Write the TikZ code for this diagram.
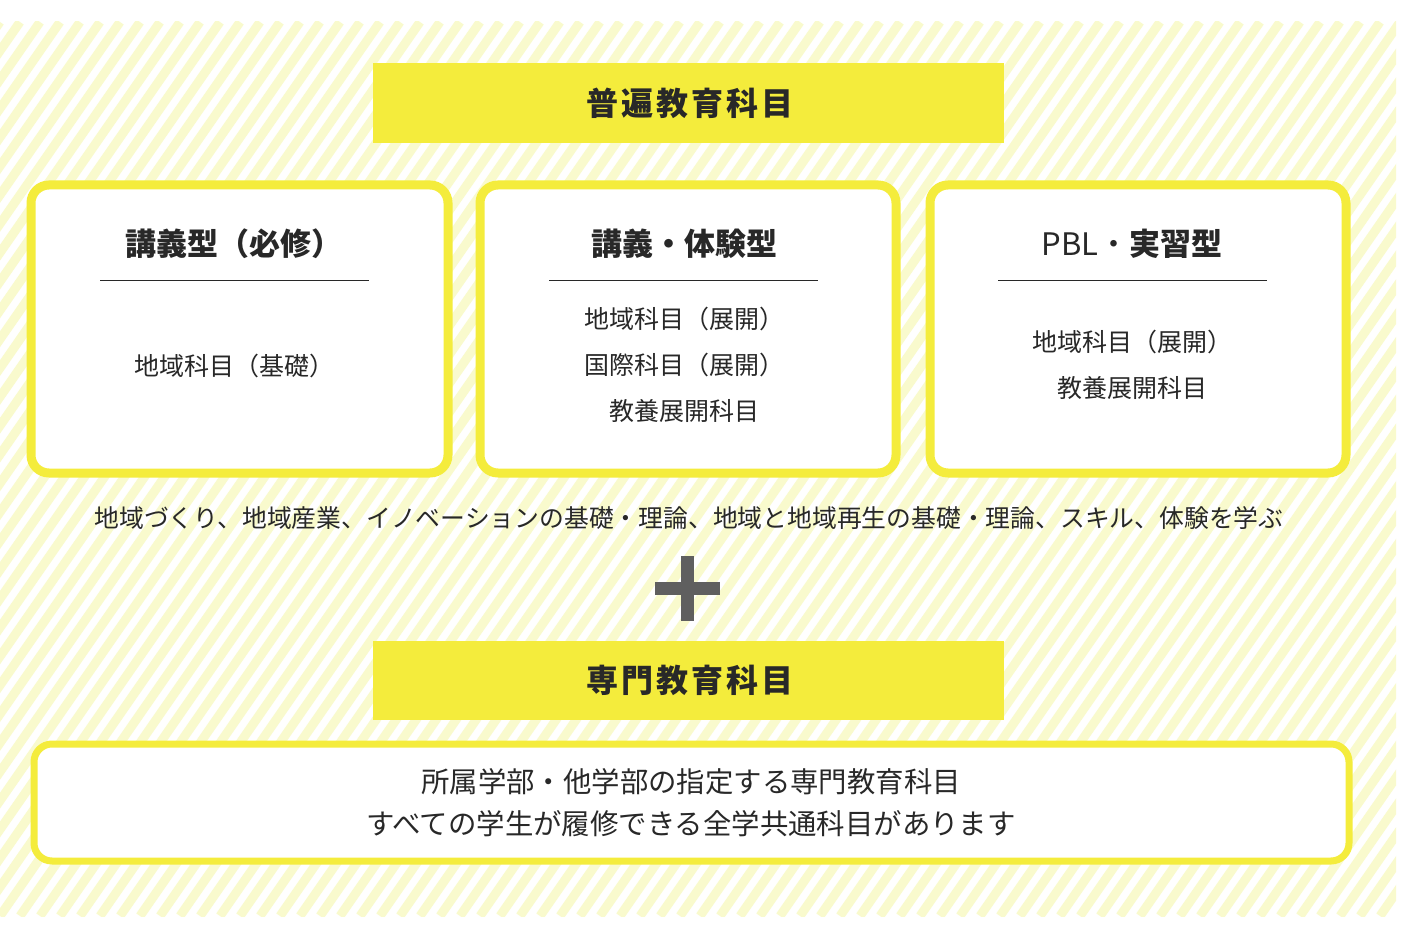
\documentclass[tikz,border=0pt]{standalone}
\usepackage{fontspec}
\setmainfont{Noto Sans CJK JP}
\definecolor{yl}{RGB}{244,236,60}
\definecolor{stripe}{RGB}{249,250,205}
\definecolor{txt}{RGB}{40,40,40}
\definecolor{plusc}{RGB}{95,95,95}
\tikzset{
 card/.style={draw=yl,line width=4.5pt,rounded corners=9pt,fill=white},
 hdr/.style={fill=yl,draw=none},
 ttl/.style={font=\fontsize{15.5pt}{18pt}\selectfont\bfseries,text=txt},
 bodyt/.style={font=\fontsize{12.5pt}{23pt}\selectfont,text=txt,align=center},
}
\begin{document}
\begin{tikzpicture}[x=0.5pt,y=-0.5pt]
\useasboundingbox (0,0) rectangle (1402,930);
\fill[white] (0,0) rectangle (1402,930);
\begin{scope}
\clip (0,22) rectangle (1396,916);
\foreach \i in {-40,...,75}{
 \draw[stripe,line width=4.5pt] (\i*20,916) -- ++(620,-894);
}
\end{scope}
% headers
\fill[hdr] (373,63) rectangle (1004,143);
\node[ttl,font=\fontsize{16pt}{18pt}\selectfont\bfseries\addfontfeature{LetterSpace=10}] (h1) at (690,103) {普遍教育科目};
\fill[hdr] (373,641) rectangle (1004,720);
\node[ttl,font=\fontsize{16pt}{18pt}\selectfont\bfseries\addfontfeature{LetterSpace=10}] (h2) at (690,680) {専門教育科目};
% cards
\draw[card] (31,185) rectangle (448,473);
\draw[card] (480,185) rectangle (896,473);
\draw[card] (930,185) rectangle (1346,473);
\node[ttl] (t1) at (234,244) {講義型（必修）};
\node[ttl] (t2) at (684,244) {講義・体験型};
\node[ttl,font=\fontsize{15.5pt}{18pt}\selectfont] (t3) at (1132,244) {PBL・\textbf{実習型}};
\draw[txt,line width=0.5pt] (100,281) -- (369,281);
\draw[txt,line width=0.5pt] (549,281) -- (818,281);
\draw[txt,line width=0.5pt] (998,281) -- (1267,281);
\node[bodyt] (b1) at (234,366) {地域科目（基礎）};
\node[bodyt] (b2) at (684,365) {地域科目（展開）\\国際科目（展開）\\教養展開科目};
\node[bodyt] (b3) at (1132,365) {地域科目（展開）\\教養展開科目};
\node[font=\fontsize{12.4pt}{14pt}\selectfont,text=txt] (cap) at (689,518) {地域づくり、地域産業、イノベーションの基礎・理論、地域と地域再生の基礎・理論、スキル、体験を学ぶ};
% plus
\fill[plusc] (655,582) rectangle (720,595);
\fill[plusc] (681,556) rectangle (694,621);
% bottom card
\draw[card,line width=3.5pt] (34,744) rectangle (1349,861);
\node[bodyt,font=\fontsize{14.2pt}{21pt}\selectfont] (bb) at (691,803) {所属学部・他学部の指定する専門教育科目\\すべての学生が履修できる全学共通科目があります};
\end{tikzpicture}
\end{document}
